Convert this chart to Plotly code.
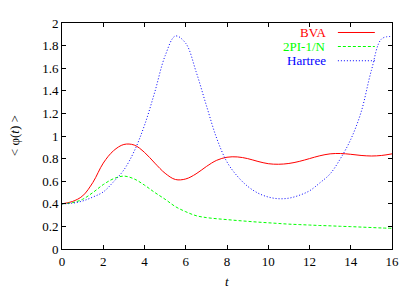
import plotly.graph_objects as go

t = [0, 0.5, 1.0, 1.5, 2.0, 2.5, 3.0, 3.5, 4.0, 4.5, 5.0, 5.5, 6.0, 6.5, 7.0, 7.5,
     8.0, 8.5, 9.0, 9.5, 10.0, 10.5, 11.0, 11.5, 12.0, 12.5, 13.0, 13.5, 14.0,
     14.5, 15.0, 15.5, 16.0]

bva = [0.40, 0.42, 0.47, 0.59, 0.76, 0.87, 0.925, 0.92, 0.855, 0.76, 0.67, 0.615,
       0.62, 0.665, 0.73, 0.785, 0.812, 0.815, 0.80, 0.775, 0.755, 0.75, 0.757,
       0.775, 0.80, 0.825, 0.842, 0.845, 0.838, 0.828, 0.823, 0.828, 0.842]

twopi = [0.40, 0.41, 0.44, 0.50, 0.57, 0.622, 0.645, 0.62, 0.565, 0.50, 0.44, 0.375,
         0.33, 0.295, 0.278, 0.268, 0.26, 0.252, 0.245, 0.238, 0.232, 0.226, 0.22,
         0.216, 0.212, 0.208, 0.205, 0.201, 0.198, 0.194, 0.19, 0.186, 0.183]

hartree = [0.40, 0.405, 0.425, 0.46, 0.505, 0.595, 0.70, 0.865, 1.095, 1.39, 1.71,
           1.885, 1.82, 1.57, 1.27, 0.98, 0.77, 0.645, 0.555, 0.495, 0.46, 0.445,
           0.45, 0.475, 0.515, 0.585, 0.665, 0.80, 0.97, 1.21, 1.58, 1.86, 1.88]

names = ["BVA", "2PI-1/N", "Hartree"]
colors = ["#ff0000", "#00ff00", "#0000ff"]
dashes = ["solid", "3px,2px", "1px,2px"]
series = [bva, twopi, hartree]

fig = go.Figure()
for name, col, d, ys in zip(names, colors, dashes, series):
    fig.add_trace(go.Scatter(x=t, y=ys, mode="lines", name=name,
                             line=dict(color=col, width=1, dash=d, shape="spline", smoothing=1.0),
                             showlegend=False))

SERIF = "Liberation Serif, Times New Roman, Times, serif"

annotations = []
shapes = []
rows_y = [0.958, 0.896, 0.833]
for name, col, d, yy in zip(names, colors, dashes, rows_y):
    annotations.append(dict(x=0.806, y=yy, xref="paper", yref="paper", text=name,
                            showarrow=False, xanchor="right", yanchor="middle",
                            font=dict(family=SERIF, size=13, color=col)))
    shapes.append(dict(type="line", xref="paper", yref="paper", x0=0.836, x1=0.948,
                       y0=yy, y1=yy, line=dict(color=col, width=1, dash=d)))

annotations.append(dict(x=-0.145, y=0.5, xref="paper", yref="paper",
                        text="&lt; φ(<i>t</i>) &gt;", textangle=-90, showarrow=False,
                        xanchor="center", yanchor="middle",
                        font=dict(family=SERIF, size=13, color="black")))
annotations.append(dict(x=0.5, y=-0.142, xref="paper", yref="paper",
                        text="<i>t</i>", showarrow=False,
                        xanchor="center", yanchor="middle",
                        font=dict(family=SERIF, size=13, color="black")))

def axis_style():
    return dict(showgrid=False, zeroline=False, showline=True, linecolor="black",
                linewidth=1, mirror="ticks", ticks="inside", ticklen=4,
                tickcolor="black", tickfont=dict(family=SERIF, size=13, color="black"))

# page body has an 8px margin; size/margins compensate so plot area matches reference
fig.update_layout(
    width=407, height=283,
    margin=dict(l=54, r=23, t=8, b=42),
    paper_bgcolor="white", plot_bgcolor="white",
    font=dict(family=SERIF, size=13, color="black"),
    xaxis=dict(range=[0, 16], dtick=2, tick0=0, **axis_style()),
    yaxis=dict(range=[0, 2], dtick=0.2, tick0=0, **axis_style()),
    annotations=annotations, shapes=shapes,
)

fig.write_html("out.html")
